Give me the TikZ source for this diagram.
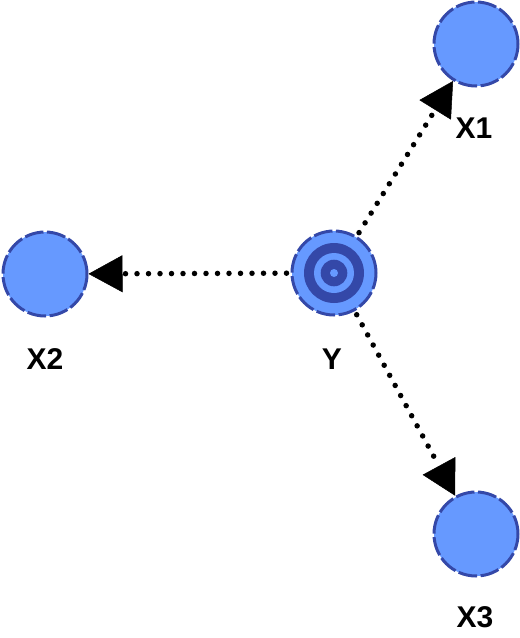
\documentclass[tikz,border=0pt]{standalone}
\usepackage{fontspec}
\setmainfont{Liberation Sans}
\usetikzlibrary{arrows.meta}
\definecolor{nodefill}{RGB}{102,153,255}
\definecolor{nodeline}{RGB}{52,72,168}
\tikzset{
  var/.style={circle, minimum size=84pt, inner sep=0pt, fill=nodefill, draw=nodeline,
    line width=3pt, dash pattern=on 19pt off 3.5pt},
  lbl/.style={font=\bfseries\fontsize{30}{32}\selectfont, anchor=base, inner sep=0pt},
  link/.style={line width=5.5pt, line cap=round, dash pattern=on 0pt off 11.5pt,
    -{Triangle[length=34pt,width=37pt,line width=0.5pt]}, shorten <=4pt}
}
\begin{document}
\begin{tikzpicture}[x=1pt,y=-1pt]
\useasboundingbox (0,0) rectangle (520,638);
\node[var] (y) at (334,273) {};
\fill[nodeline] (y.center) circle (30pt);
\fill[nodefill] (y.center) circle (20pt);
\fill[nodeline] (y.center) circle (13.3pt);
\fill[nodefill] (y.center) circle (4pt);
\node[var] (x1) at (476,44) {};
\node[var] (x2) at (45,274) {};
\node[var] (x3) at (476,534) {};
\node[lbl] (l1) at (474,138) {X1};
\node[lbl] (l2) at (45,369) {X2};
\node[lbl] (ly) at (332,369) {Y};
\node[lbl] (l3) at (475,627) {X3};
\draw[link] (y) -- (x1);
\draw[link] (y) -- (x2);
\draw[link] (y) -- (x3);
\end{tikzpicture}
\end{document}
